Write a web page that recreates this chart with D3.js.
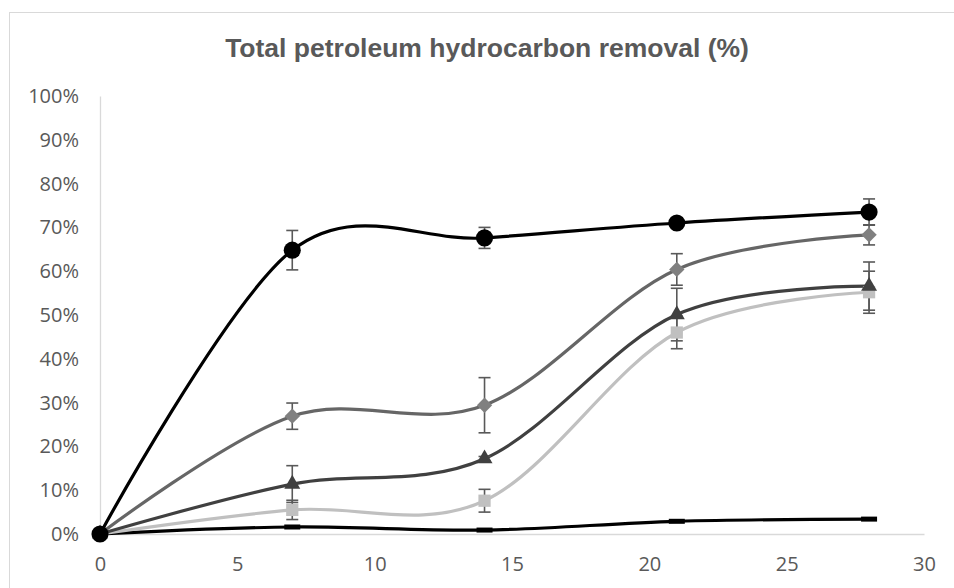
<!DOCTYPE html>
<html>
<head>
<meta charset="utf-8">
<script src="https://cdn.jsdelivr.net/npm/d3@7"></script>
<style>
  html, body { margin: 0; padding: 0; background: #fff; }
  svg { display: block; }
</style>
</head>
<body>
<svg id="chart" width="954" height="588"></svg>
<script>
// Sampling days
const days = [0, 7, 14, 21, 28];

// Removal (%) per treatment, with standard deviations
const seriesCircle   = [0, 64.8, 67.6, 71.0, 73.5];
const errCircle      = [0, 4.5, 2.4, 0.5, 3.0];
const seriesDiamond  = [0, 26.9, 29.4, 60.4, 68.3];
const errDiamond     = [0, 3.0, 6.3, 3.6, 2.3];
const seriesTriangle = [0, 11.4, 17.2, 50.1, 56.6];
const errTriangle    = [0, 4.2, 0.5, 6.0, 5.5];
const seriesSquare   = [0, 5.5, 7.6, 46.0, 55.2];
const errSquare      = [0, 2.2, 2.6, 3.7, 4.8];
const seriesDash     = [0, 1.6, 0.9, 2.9, 3.4];

const xTicks = [0, 5, 10, 15, 20, 25, 30];
const yTicks = [0, 10, 20, 30, 40, 50, 60, 70, 80, 90, 100];

const title = "Total petroleum hydrocarbon removal (%)";

const svg = d3.select("#chart");
const W = 954, H = 588;
const plot = { left: 100, right: 924, top: 96, bottom: 534 };

const x = d3.scaleLinear().domain([0, 30]).range([plot.left, plot.right]);
const y = d3.scaleLinear().domain([0, 100]).range([plot.bottom, plot.top]);

// Chart frame
svg.append("rect")
  .attr("x", 9.5).attr("y", 12.5)
  .attr("width", W + 20).attr("height", H + 20)
  .attr("fill", "#fff").attr("stroke", "#d9d9d9").attr("stroke-width", 1);

// Title
svg.append("text")
  .attr("x", 487).attr("y", 57)
  .attr("text-anchor", "middle")
  .attr("font-family", "'Liberation Sans', Arial, sans-serif")
  .attr("font-weight", "bold")
  .attr("font-size", 26.5)
  .attr("fill", "#595959")
  .text(title);

// Axes
const tickFont = "'Open Sans', 'Noto Sans', sans-serif";
const tickSize = 20;
const yAxis = d3.axisLeft(y).tickValues(yTicks).tickSize(0).tickPadding(21)
  .tickFormat(d => d + "%");
const gy = svg.append("g").attr("transform", `translate(${plot.left},0)`).call(yAxis);
gy.select(".domain").attr("stroke", "#d9d9d9").attr("stroke-width", 1.3);
gy.selectAll("text").attr("font-family", tickFont).attr("font-size", tickSize).attr("fill", "#595959");

const xAxis = d3.axisBottom(x).tickValues(xTicks).tickSize(0).tickPadding(23);
const gx = svg.append("g").attr("transform", `translate(0,${plot.bottom})`).call(xAxis);
gx.select(".domain").attr("stroke", "#d9d9d9").attr("stroke-width", 1.3);
gx.selectAll("text").attr("font-family", tickFont).attr("font-size", tickSize).attr("fill", "#595959");

// Smoothed line generator
const line = d3.line()
  .x((d, i) => x(days[i]))
  .y(d => y(d))
  .curve(d3.curveCardinal.tension(0));

const series = [
  { values: seriesDash,     err: null,        line: "#000000", fill: "#000000", shape: "dash" },
  { values: seriesSquare,   err: errSquare,   line: "#c0c0c0", fill: "#c0c0c0", shape: "square" },
  { values: seriesTriangle, err: errTriangle, line: "#404040", fill: "#404040", shape: "triangle" },
  { values: seriesDiamond,  err: errDiamond,  line: "#666666", fill: "#808080", shape: "diamond" },
  { values: seriesCircle,   err: errCircle,   line: "#000000", fill: "#000000", shape: "circle" }
];

// Lines
series.forEach(s => {
  svg.append("path")
    .attr("d", line(s.values))
    .attr("fill", "none")
    .attr("stroke", s.line)
    .attr("stroke-width", 3.2)
    .attr("stroke-linecap", "round");
});

// Error bars
const cap = 6;
series.forEach(s => {
  if (!s.err) return;
  const g = svg.append("g").attr("stroke", "#595959").attr("stroke-width", 1.6);
  s.values.forEach((v, i) => {
    const e = s.err[i];
    if (!e) return;
    const cx = x(days[i]);
    const y1 = y(v + e), y2 = y(v - e);
    g.append("line").attr("x1", cx).attr("x2", cx).attr("y1", y1).attr("y2", y2);
    g.append("line").attr("x1", cx - cap).attr("x2", cx + cap).attr("y1", y1).attr("y2", y1);
    g.append("line").attr("x1", cx - cap).attr("x2", cx + cap).attr("y1", y2).attr("y2", y2);
  });
});

// Markers
const symbolFor = {
  circle: d3.symbol().type(d3.symbolCircle).size(230),
  diamond: d3.symbol().type(d3.symbolDiamond2).size(150),
  triangle: d3.symbol().type(d3.symbolTriangle).size(110),
  square: d3.symbol().type(d3.symbolSquare).size(150)
};
series.forEach(s => {
  s.values.forEach((v, i) => {
    const cx = x(days[i]), cy = y(v);
    if (s.shape === "dash") {
      svg.append("rect")
        .attr("x", cx - 8).attr("y", cy - 2.5)
        .attr("width", 16).attr("height", 5)
        .attr("fill", s.fill);
    } else {
      svg.append("path")
        .attr("d", symbolFor[s.shape]())
        .attr("transform", `translate(${cx},${cy})`)
        .attr("fill", s.fill);
    }
  });
});
</script>
</body>
</html>
